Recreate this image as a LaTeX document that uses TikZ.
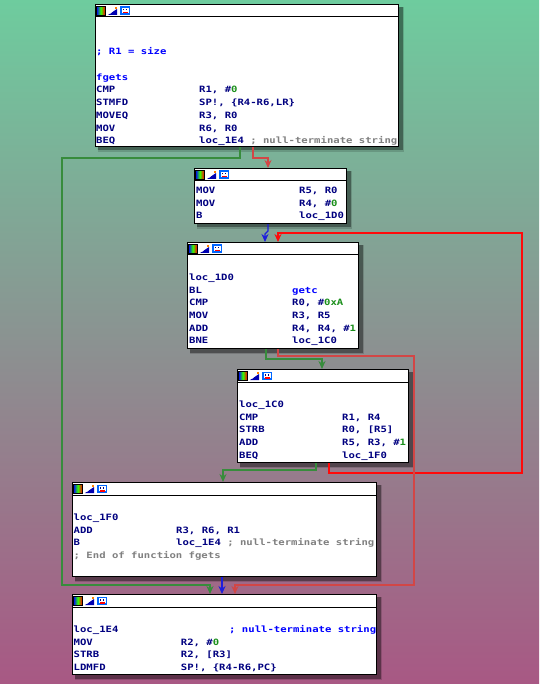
\documentclass[tikz,border=0pt]{standalone}
\usepackage{fontspec}
\usetikzlibrary{arrows.meta,calc}
\newfontfamily\idafont{DejaVu Sans Mono}[FakeStretch=1.22]
\definecolor{bgtop}{RGB}{110,204,158}
\definecolor{bgbot}{RGB}{168,88,132}
\definecolor{idanavy}{HTML}{000080}
\definecolor{idablue}{HTML}{0000FF}
\definecolor{idagray}{HTML}{808080}
\definecolor{idagreen}{HTML}{1A8F1A}
\definecolor{egreen}{RGB}{55,140,60}
\definecolor{ered}{RGB}{210,70,70}
\definecolor{ebred}{RGB}{255,10,10}
\definecolor{eblue}{RGB}{30,30,220}
\tikzset{
  boxshape/.style={draw=black,line width=1.2pt,fill=white,inner sep=0pt,anchor=north west},
  code/.style={font=\idafont\bfseries\fontsize{8.7}{10}\selectfont,inner sep=0pt,anchor=base west,text=idanavy},
  edge/.style={line width=1.4pt,-{Stealth[length=8pt,width=7pt]}},
  gline/.style={edge,egreen},
  rline/.style={edge,ered,line width=1.2pt},
  brline/.style={edge,ebred,line width=1.8pt},
  bline/.style={edge,eblue},
}
% #1 name, #2 left, #3 top, #4 right, #5 bottom
\newcommand\idabox[5]{%
  \fill[black,opacity=.15] (#2+3,#3+3) rectangle (#4+6,#5+6);
  \fill[black,opacity=.35] (#2+3,#3+3) rectangle (#4+4.5,#5+4.5);
  \node[boxshape,minimum width=#4-#2,minimum height=#5-#3] (#1) at (#2,#3) {};
  \draw[line width=1pt] ([yshift=-13pt]#1.north west) -- ([yshift=-13pt]#1.north east);
  \begin{scope}[shift={(#2,#3)}]
    \shade[left color=blue,right color=red,middle color=green!80!yellow] (1.5,2.5) rectangle (10,11);
    \draw[black,line width=.5pt] (1.5,2.5) rectangle (10,11);
    \fill[blue!70!black] (13,11) -- (22,11) -- (22,5) -- cycle;
    \draw[white,line width=1.4pt] (14.5,9.5) -- (20.5,3.5);
    \fill[orange] (20,3) rectangle (22,5);
    \fill[blue!60!cyan] (25,2.5) rectangle (35,11);
    \fill[white] (26.5,4) rectangle (33.5,9);
    \fill[idanavy] (28,5) rectangle (29,6.5);
    \fill[idanavy] (31,5) rectangle (32,6.5);
    \fill[red] (27.5,8) rectangle (32.5,9.5);
  \end{scope}
}
% #1 name, #2 x, #3 baseline y, #4 column width, #5 mnemonic, #6 operands
\newcommand\asmln[6]{\node[code] (#1) at (#2,#3) {\makebox[#4pt][l]{#5}#6};}
\newcommand\num[1]{\textcolor{idagreen}{#1}}
\newcommand\cmt[1]{\textcolor{idagray}{#1}}
\newcommand\blu[1]{\textcolor{idablue}{#1}}
\begin{document}
\begin{tikzpicture}[x=1pt,y=-1pt]
\useasboundingbox (0,0) rectangle (539,684);
\shade[top color=bgtop,bottom color=bgbot] (0,0) rectangle (539,684);

% ---- boxes
\idabox{b1}{95}{4}{398}{146}
\idabox{b2}{194}{168}{346}{223}
\idabox{b3}{187}{242}{358}{348}
\idabox{b4}{237}{369}{408}{462}
\idabox{b5}{72}{482}{376}{576}
\idabox{b6}{72}{594}{376}{674}

% ---- box 1
\asmln{t1a}{96}{55}{0}{}{\blu{; R1 = size}}
\asmln{t1b}{96}{80.4}{0}{}{\blu{fgets}}
\asmln{t1c}{96}{93}{103}{CMP}{R1, \#\num{0}}
\asmln{t1d}{96}{105.8}{103}{STMFD}{SP!, \{R4-R6,LR\}}
\asmln{t1e}{96}{118.5}{103}{MOVEQ}{R3, R0}
\asmln{t1f}{96}{131.2}{103}{MOV}{R6, R0}
\asmln{t1g}{96}{143.9}{103}{BEQ}{loc\_1E4 \cmt{; null-terminate string}}

% ---- box 2
\asmln{t2a}{196}{193.6}{103}{MOV}{R5, R0}
\asmln{t2b}{196}{206.3}{103}{MOV}{R4, \#\num{0}}
\asmln{t2c}{196}{219}{103}{B}{loc\_1D0}

% ---- box 3
\asmln{t3a}{189}{280.4}{0}{}{loc\_1D0}
\asmln{t3b}{189}{293}{103}{BL}{\blu{getc}}
\asmln{t3c}{189}{305.8}{103}{CMP}{R0, \#\num{0xA}}
\asmln{t3d}{189}{318.5}{103}{MOV}{R3, R5}
\asmln{t3e}{189}{331.2}{103}{ADD}{R4, R4, \#\num{1}}
\asmln{t3f}{189}{343.9}{103}{BNE}{loc\_1C0}

% ---- box 4
\asmln{t4a}{239}{407.4}{0}{}{loc\_1C0}
\asmln{t4b}{239}{420}{103}{CMP}{R1, R4}
\asmln{t4c}{239}{432.8}{103}{STRB}{R0, [R5]}
\asmln{t4d}{239}{445.5}{103}{ADD}{R5, R3, \#\num{1}}
\asmln{t4e}{239}{458.2}{103}{BEQ}{loc\_1F0}

% ---- box 5
\asmln{t5a}{73.5}{520.4}{0}{}{loc\_1F0}
\asmln{t5b}{73.5}{533}{102.5}{ADD}{R3, R6, R1}
\asmln{t5c}{73.5}{545.8}{102.5}{B}{loc\_1E4 \cmt{; null-terminate string}}
\asmln{t5d}{73.5}{558.5}{0}{}{\cmt{; End of function fgets}}

% ---- box 6
\asmln{t6a}{73.5}{632.4}{155.5}{loc\_1E4}{\blu{; null-terminate string}}
\asmln{t6b}{73.5}{645}{107.2}{MOV}{R2, \#\num{0}}
\asmln{t6c}{73.5}{657.8}{107.2}{STRB}{R2, [R3]}
\asmln{t6d}{73.5}{670.5}{107.2}{LDMFD}{SP!, \{R4-R6,PC\}}

% ---- connectors
\draw[gline] ([xshift=145pt]b1.south west) |- (62,158) |- (210,585) -- ([xshift=138pt]b6.north west);
\draw[rline] ([xshift=158pt]b1.south west) |- (268,158) -- ([xshift=74pt]b2.north west);
\draw[bline] ([xshift=74pt]b2.south west) -- (268,231) -- (265,234) -- ([xshift=78pt]b3.north west);
\draw[brline] ([xshift=92pt]b4.south west) |- (522,473) |- (278,233) -- ([xshift=91pt]b3.north west);
\draw[rline] ([xshift=91pt]b3.south west) |- (414,356) |- (235,585) -- ([xshift=163pt]b6.north west);
\draw[gline] ([xshift=79pt]b3.south west) |- (322,359) -- ([xshift=85pt]b4.north west);
\draw[gline] ([xshift=79pt]b4.south west) |- (223,470) -- ([xshift=151pt]b5.north west);
\draw[bline] ([xshift=150pt]b5.south west) -- ([xshift=150pt]b6.north west);
\end{tikzpicture}
\end{document}
